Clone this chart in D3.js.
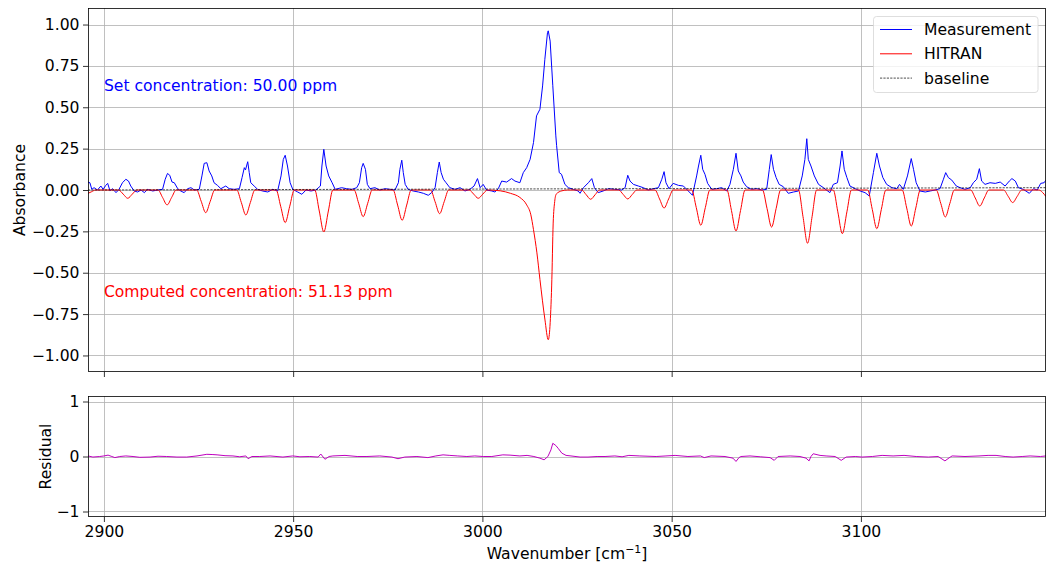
<!DOCTYPE html>
<html>
<head>
<meta charset="utf-8">
<script src="https://cdn.jsdelivr.net/npm/d3@7"></script>
<style>
body { margin: 0; background: #fff; }
text { font-family: "DejaVu Sans", sans-serif; }
</style>
</head>
<body>
<div id="chart"></div>
<script>
// spectra: [wavenumber, absorbance]
var measurement = [
[2895.8,0.048],[2896.3,0.044],[2896.8,0.004],[2897.4,0.014],[2898.3,0],[2899.2,0.024],[2899.8,0.004],
[2900.5,0.028],[2901.0,0.04],[2901.6,-0.004],[2902.3,0.008],[2903.2,-0.016],[2904.0,0.004],[2904.9,0.044],
[2905.8,0.065],[2906.5,0.054],[2907.1,0.024],[2908.0,-0.006],[2908.9,-0.012],[2909.8,0],[2910.7,-0.016],
[2911.5,0.004],[2912.9,-0.006],[2914.2,0],[2915.5,0.004],[2916.2,0.065],[2916.8,0.10],[2917.4,0.089],
[2918.0,0.048],[2918.6,0.044],[2919.5,0.008],[2920.3,-0.006],[2921.2,-0.016],[2922.1,0.008],[2923.0,0.014],
[2923.9,0],[2925.2,0.004],[2925.9,0.085],[2926.5,0.161],[2927.2,0.165],[2927.8,0.115],[2928.5,0.085],
[2929.1,0.044],[2930.0,0.028],[2930.9,0.008],[2932.2,0.024],[2933.1,0.008],[2934.4,0.004],[2935.8,0.008],
[2936.5,0.075],[2937.1,0.135],[2937.4,0.121],[2938.0,0.171],[2938.4,0.105],[2938.8,0.044],[2939.7,0.024],
[2940.6,0.004],[2941.9,-0.006],[2943.3,-0.012],[2944.6,0.004],[2945.9,-0.006],[2946.8,0.085],[2947.4,0.185],
[2947.9,0.21],[2948.5,0.145],[2949.2,0.044],[2949.9,0.004],[2951.2,-0.012],[2952.3,-0.026],[2953.4,0],
[2954.7,-0.006],[2956.0,0],[2957.2,0.024],[2957.6,0.145],[2958.1,0.246],[2958.7,0.145],[2959.4,0.085],
[2960.3,0.044],[2961.1,0.004],[2962.8,0.014],[2964.1,0.008],[2965.5,0.004],[2966.8,0.014],[2967.5,0.044],
[2968.1,0.135],[2968.5,0.161],[2969.1,0.125],[2969.6,0.034],[2970.3,0.008],[2971.6,0.014],[2972.9,0],
[2974.3,0.008],[2975.6,0.004],[2976.9,0],[2977.8,0.044],[2978.2,0.125],[2978.7,0.18],[2979.1,0.105],
[2979.6,0.034],[2980.4,0.004],[2981.7,-0.006],[2983.1,-0.012],[2984.4,-0.02],[2985.7,-0.032],[2986.6,-0.016],
[2987.5,0.014],[2988.1,0.105],[2988.6,0.169],[2989.1,0.105],[2989.7,0.065],[2990.4,0.044],[2991.4,0.014],
[2992.8,0.004],[2994.1,0.014],[2995.4,-0.006],[2996.7,0.004],[2997.8,0.024],[2998.7,0.069],[2999.4,0.014],
[3000.2,0.034],[3001.1,0],[3002.5,-0.006],[3003.3,-0.012],[3004.2,0.008],[3005.1,0.054],[3006.4,0.048],
[3007.7,0.069],[3008.6,0.054],[3009.9,0.044],[3010.8,0.105],[3011.7,0.135],[3012.6,0.185],[3013.5,0.287],
[3014.3,0.448],[3015.2,0.488],[3015.9,0.629],[3016.5,0.79],[3017.2,0.952],[3017.4,0.962],[3017.9,0.90],
[3018.6,0.63],[3019.4,0.327],[3019.6,0.27],[3020.3,0.105],[3020.9,0.095],[3021.8,0.034],[3022.7,0.014],
[3024.0,0.004],[3025.3,-0.006],[3025.8,-0.02],[3026.7,0.014],[3028.0,0.044],[3028.9,0.069],[3029.6,0.014],
[3030.6,-0.016],[3031.9,-0.006],[3033.3,0.008],[3035.0,0.004],[3036.8,0],[3037.7,0.014],[3038.4,0.089],
[3039.0,0.054],[3039.9,0.034],[3041.2,0.024],[3042.5,0.014],[3043.8,0],[3045.2,0.008],[3046.5,0.014],
[3047.4,0.065],[3048.0,0.111],[3048.5,0.044],[3049.3,0.008],[3050.4,0.04],[3051.8,0.028],[3053.1,0.024],
[3054.4,-0.006],[3055.5,-0.032],[3056.6,0.085],[3057.1,0.145],[3057.7,0.21],[3058.2,0.125],[3058.8,0.095],
[3059.5,0.04],[3060.6,0.004],[3061.9,0.008],[3063.2,0.014],[3064.6,-0.006],[3065.4,0.034],[3066.3,0.125],
[3067.0,0.222],[3067.6,0.115],[3068.3,0.085],[3068.9,0.048],[3069.8,0.02],[3071.1,0.004],[3072.5,0.008],
[3073.8,0],[3075.1,0.004],[3075.8,0.125],[3076.3,0.214],[3076.9,0.125],[3077.6,0.075],[3078.4,0.034],
[3079.5,0.02],[3080.8,-0.02],[3082.2,-0.012],[3083.5,-0.006],[3084.5,0.085],[3085.2,0.185],[3085.7,0.31],
[3086.1,0.185],[3086.8,0.145],[3087.7,0.085],[3088.8,0.034],[3090.1,0.014],[3091.8,-0.016],[3092.7,0.034],
[3093.8,0.044],[3094.5,0.145],[3095.0,0.236],[3095.6,0.125],[3096.3,0.075],[3097.1,0.024],[3098.5,0.008],
[3099.8,-0.006],[3101.1,-0.016],[3102.2,-0.036],[3103.3,0.105],[3104.2,0.222],[3104.9,0.145],[3105.8,0.075],
[3106.8,0.034],[3108.2,0.014],[3109.5,0.008],[3110.2,0.034],[3111.2,0.004],[3112.3,0.085],[3113.3,0.19],
[3113.9,0.125],[3114.6,0.044],[3115.6,-0.006],[3117.0,-0.012],[3118.3,-0.006],[3119.6,0],[3120.9,0.008],
[3121.8,0.065],[3122.4,0.105],[3123.1,0.075],[3124.0,0.06],[3125.2,0.024],[3126.2,0.014],[3127.5,0.004],
[3128.9,0.014],[3129.7,0.044],[3130.6,0.065],[3131.3,0.129],[3131.9,0.054],[3132.8,0.034],[3134.1,0.044],
[3135.5,0.04],[3136.8,0.048],[3138.1,0.024],[3139.2,0.054],[3139.9,0.069],[3140.8,0.054],[3141.6,0.014],
[3142.9,0.004],[3144.5,-0.02],[3145.6,0.008],[3146.6,0],[3147.5,0.04],[3148.4,0.044],[3148.9,0.06]
];

// HITRAN model, plotted inverted
var hitran = [
[2895.8,-0.02],[2896.8,-0.01],[2897.8,0],
[2903.9,0],[2905.1,-0.025],[2906.3,-0.05],[2907.5,-0.025],[2908.7,0],
[2914.3,0],[2915.5,-0.045],[2916.7,-0.09],[2917.9,-0.045],[2919.1,0],
[2924.5,0],[2925.7,-0.068],[2926.9,-0.137],[2928.1,-0.068],[2929.3,0],
[2935.1,0],[2936.3,-0.075],[2937.5,-0.151],[2938.7,-0.075],[2939.9,0],
[2945.5,0],[2946.7,-0.098],[2947.9,-0.197],[2949.1,-0.098],[2950.3,0],
[2955.7,0],[2956.9,-0.127],[2958.1,-0.254],[2959.3,-0.127],[2960.5,0],
[2966.1,0],[2967.3,-0.08],[2968.5,-0.161],[2969.7,-0.08],[2970.9,0],
[2976.4,0],[2977.6,-0.091],[2978.8,-0.183],[2980.0,-0.091],[2981.2,0],
[2986.3,0],[2987.5,-0.071],[2988.7,-0.143],[2989.9,-0.071],[2991.1,0],
[2996.5,0],[2997.7,-0.025],[2998.9,-0.05],[3000.1,-0.025],[3001.3,0],
[3004.7,-0.005],[3007.4,-0.02],[3009.9,-0.045],[3011.7,-0.09],[3012.8,-0.15],[3013.5,-0.24],[3014.4,-0.38],
[3015.2,-0.54],[3016.5,-0.78],[3017.4,-0.905],[3018.3,-0.58],[3018.7,-0.2],[3019.1,-0.07],[3019.5,-0.025],
[3021.0,-0.005],[3022.5,0],
[3026.2,0],[3027.4,-0.028],[3028.6,-0.056],[3029.8,-0.028],[3031.0,0],
[3036.0,0],[3037.2,-0.027],[3038.4,-0.054],[3039.6,-0.027],[3040.8,0],
[3045.6,0],[3046.8,-0.054],[3048.0,-0.109],[3049.2,-0.054],[3050.4,0],
[3055.3,0],[3056.5,-0.106],[3057.7,-0.213],[3058.9,-0.106],[3060.1,0],
[3064.6,0],[3065.8,-0.124],[3067.0,-0.248],[3068.2,-0.124],[3069.4,0],
[3074.0,0],[3075.2,-0.112],[3076.4,-0.224],[3077.6,-0.112],[3078.8,0],
[3083.5,0],[3084.7,-0.161],[3085.9,-0.322],[3087.1,-0.161],[3088.3,0],
[3092.7,0],[3093.9,-0.132],[3095.1,-0.264],[3096.3,-0.132],[3097.5,0],
[3101.8,0],[3103.0,-0.117],[3104.2,-0.234],[3105.4,-0.117],[3106.6,0],
[3110.9,0],[3112.1,-0.109],[3113.3,-0.218],[3114.5,-0.109],[3115.7,0],
[3119.9,0],[3121.1,-0.081],[3122.3,-0.163],[3123.5,-0.081],[3124.7,0],
[3129.0,0],[3130.2,-0.048],[3131.4,-0.097],[3132.6,-0.048],[3133.8,0],
[3137.7,0],[3138.9,-0.038],[3140.1,-0.076],[3141.3,-0.038],[3142.5,0],
[3147.0,0],[3148.0,-0.015],[3148.9,-0.04]
];

var baseline = [[2895.8,0.0],[3148.9,0.014]];

var residual = [
[2895.8,0.01],[2897.1,-0.01],[2898.9,0.0],[2900.0,0.01],[2901.1,0.025],[2902.1,0.0],[2902.9,-0.02],
[2904.2,0.0],[2905.8,0.01],[2907.7,0.0],[2909.5,-0.015],[2912.2,-0.01],[2914.3,0.005],[2916.6,0.0],
[2919.3,-0.01],[2921.9,-0.01],[2924.6,0.01],[2927.2,0.04],[2928.8,0.035],[2929.9,0.03],[2932.0,0.015],
[2934.1,0.01],[2935.9,-0.005],[2937.5,0.01],[2938.1,-0.04],[2939.1,0.0],[2941.2,0.0],[2943.9,0.01],
[2947.3,-0.01],[2949.9,0.01],[2951.8,-0.005],[2954.4,0.0],[2956.6,-0.01],[2957.3,0.045],[2958.4,-0.05],
[2959.5,0.0],[2960.5,0.01],[2963.7,0.02],[2966.9,0.0],[2969.5,0.0],[2972.9,0.01],[2976.1,-0.01],
[2977.7,-0.04],[2979.5,-0.01],[2982.7,0.0],[2985.6,-0.02],[2987.7,0.01],[2989.6,0.03],[2991.4,0.02],
[2993.5,0.01],[2995.9,0.0],[2998.0,0.01],[3000.2,0.0],[3002.5,0.0],[3005.4,0.03],[3007.3,0.025],
[3009.9,0.01],[3011.8,0.02],[3013.6,0.0],[3015.2,-0.03],[3016.3,-0.06],[3017.3,0.0],[3018.1,0.12],
[3018.6,0.24],[3019.4,0.2],[3020.0,0.15],[3021.0,0.06],[3022.1,0.02],[3023.4,0.01],[3025.8,-0.01],
[3027.9,-0.01],[3030.3,0.0],[3032.4,0.0],[3035.0,0.01],[3036.9,-0.005],[3038.7,0.02],[3041.6,0.01],
[3045.9,0.0],[3048.5,0.01],[3050.9,0.02],[3054.3,0.0],[3057.6,0.01],[3058.6,-0.02],[3060.4,0.01],
[3064.1,0.0],[3066.2,-0.03],[3067.0,-0.09],[3067.8,-0.02],[3068.3,0.0],[3070.7,0.01],[3073.4,-0.005],
[3076.0,-0.02],[3077.1,-0.07],[3078.1,0.0],[3081.3,0.01],[3083.9,0.0],[3085.5,-0.03],[3086.3,-0.08],
[3086.8,0.0],[3087.4,0.05],[3089.2,0.02],[3090.8,0.01],[3093.2,0.0],[3094.8,-0.07],[3096.1,-0.01],
[3098.5,0.0],[3100.3,-0.01],[3103.0,0.0],[3105.6,0.02],[3108.5,0.01],[3111.4,0.02],[3114.6,0.0],
[3117.8,-0.01],[3120.4,0.0],[3122.2,-0.08],[3123.6,-0.01],[3124.1,0.01],[3127.5,0.0],[3131.2,0.01],
[3133.6,0.02],[3135.7,0.02],[3138.1,0.0],[3140.2,-0.01],[3142.6,0.0],[3144.7,0.01],[3147.4,0.0],[3148.9,0.01]
];

var xTicks = [2900, 2950, 3000, 3050, 3100];
var yTicksMain = [-1.0, -0.75, -0.5, -0.25, 0, 0.25, 0.5, 0.75, 1.0];
var yTicksRes = [-1, 0, 1];
var legendNames = ["Measurement", "HITRAN", "baseline"];
var setText = "Set concentration: 50.00 ppm";
var compText = "Computed concentration: 51.13 ppm";

var W = 1051, H = 564;
var L = 88, R = 1046;
var mainTop = 8, mainBot = 372;
var resTop = 396, resBot = 517;
var fs = 15.6;

var svg = d3.select("#chart").append("svg")
	.attr("width", W).attr("height", H);

var x = d3.scaleLinear().domain([2895.8, 3148.9]).range([L, R]);
var yMain = d3.scaleLinear().domain([-1.1, 1.1]).range([mainBot, mainTop]);
var yRes = d3.scaleLinear().domain([-1.1, 1.1]).range([resBot, resTop]);

function minus(s) { return String(s).replace("-", "\u2212"); }

function panel(y, top, bot, yTicks, yFmt, id) {
	var g = svg.append("g");
	// grid
	g.selectAll(".gx").data(xTicks).enter().append("line")
		.attr("x1", function(d) { return Math.round(x(d)) + 0.5; })
		.attr("x2", function(d) { return Math.round(x(d)) + 0.5; })
		.attr("y1", top).attr("y2", bot)
		.attr("stroke", "#b0b0b0").attr("stroke-width", 0.8);
	g.selectAll(".gy").data(yTicks).enter().append("line")
		.attr("x1", L).attr("x2", R)
		.attr("y1", function(d) { return Math.round(y(d)) + 0.5; })
		.attr("y2", function(d) { return Math.round(y(d)) + 0.5; })
		.attr("stroke", "#b0b0b0").attr("stroke-width", 0.8);

	svg.append("clipPath").attr("id", id)
		.append("rect").attr("x", L).attr("y", top).attr("width", R - L).attr("height", bot - top);

	var ax = d3.axisLeft(y).tickValues(yTicks).tickSize(5).tickPadding(3.5)
		.tickFormat(function(d) { return minus(yFmt(d)); });
	var ga = svg.append("g").attr("transform", "translate(" + L + ",0)").call(ax);
	ga.select(".domain").remove();
	ga.selectAll("text").attr("font-size", fs).attr("font-family", "DejaVu Sans").attr("fill", "#000");
	ga.selectAll("line").attr("stroke", "#000").attr("stroke-width", 0.8);

	var bx = d3.axisBottom(x).tickValues(xTicks).tickSize(5).tickPadding(3.5).tickFormat(d3.format("d"));
	var gb = svg.append("g").attr("transform", "translate(0," + bot + ")").call(bx);
	gb.select(".domain").remove();
	gb.selectAll("text").attr("font-size", fs).attr("font-family", "DejaVu Sans").attr("fill", "#000");
	gb.selectAll("line").attr("stroke", "#000").attr("stroke-width", 0.8);
	if (id == "clipMain") gb.selectAll("text").remove();
	return g;
}

panel(yMain, mainTop, mainBot, yTicksMain, d3.format(".2f"), "clipMain");
panel(yRes, resTop, resBot, yTicksRes, d3.format("d"), "clipRes");

var lineMain = d3.line().x(function(d) { return x(d[0]); }).y(function(d) { return yMain(d[1]); });
var lineSmooth = d3.line().curve(d3.curveMonotoneX).x(function(d) { return x(d[0]); }).y(function(d) { return yMain(d[1]); });
var lineRes = d3.line().x(function(d) { return x(d[0]); }).y(function(d) { return yRes(d[1]); });

var gm = svg.append("g").attr("clip-path", "url(#clipMain)");
gm.append("path").datum(measurement).attr("d", lineMain)
	.attr("fill", "none").attr("stroke", "#0000ff").attr("stroke-width", 1);
gm.append("path").datum(hitran).attr("d", lineSmooth)
	.attr("fill", "none").attr("stroke", "#ff0000").attr("stroke-width", 1);
gm.append("path").datum(baseline).attr("d", lineMain)
	.attr("fill", "none").attr("stroke", "#000").attr("stroke-width", 0.7)
	.attr("stroke-dasharray", "2.2,1.2");

svg.append("g").attr("clip-path", "url(#clipRes)")
	.append("path").datum(residual).attr("d", lineRes)
	.attr("fill", "none").attr("stroke", "#bf00bf").attr("stroke-width", 1);

// frames
[[mainTop, mainBot], [resTop, resBot]].forEach(function(p) {
	svg.append("rect").attr("x", L + 0.5).attr("y", p[0] + 0.5)
		.attr("width", R - L - 1).attr("height", p[1] - p[0] - 1)
		.attr("fill", "none").attr("stroke", "#000").attr("stroke-width", 0.8);
});

// annotations
svg.append("text").attr("x", x(2900)).attr("y", yMain(0.633)).attr("dy", "0.35em")
	.attr("font-size", fs).attr("fill", "#0000ff").text(setText);
svg.append("text").attr("x", x(2900)).attr("y", yMain(-0.613)).attr("dy", "0.35em")
	.attr("font-size", fs).attr("fill", "#ff0000").text(compText);

// axis labels
svg.append("text").attr("transform", "translate(20," + ((mainTop + mainBot) / 2) + ") rotate(-90)")
	.attr("text-anchor", "middle").attr("dy", "0.35em").attr("font-size", fs).text("Absorbance");
svg.append("text").attr("transform", "translate(46," + ((resTop + resBot) / 2) + ") rotate(-90)")
	.attr("text-anchor", "middle").attr("dy", "0.35em").attr("font-size", fs).text("Residual");
var xl = svg.append("text").attr("x", (L + R) / 2).attr("y", 559)
	.attr("text-anchor", "middle").attr("font-size", fs);
xl.append("tspan").text("Wavenumber [cm");
xl.append("tspan").attr("dy", -6).attr("font-size", fs * 0.7).text("\u22121");
xl.append("tspan").attr("dy", 6).text("]");

// legend
var lg = svg.append("g");
lg.append("rect").attr("x", 873.5).attr("y", 16.5).attr("width", 164.5).attr("height", 76)
	.attr("rx", 3).attr("fill", "#fff").attr("fill-opacity", 0.8)
	.attr("stroke", "#d6d6d6").attr("stroke-width", 0.8);
var legColors = ["#0000ff", "#ff0000", "#000"];
legendNames.forEach(function(n, i) {
	var yy = 29.5 + i * 24.3;
	lg.append("line").attr("x1", 880).attr("x2", 912).attr("y1", yy).attr("y2", yy)
		.attr("stroke", legColors[i]).attr("stroke-width", i == 2 ? 0.7 : 1)
		.attr("stroke-dasharray", i == 2 ? "2.2,1.2" : null);
	lg.append("text").attr("x", 924).attr("y", yy).attr("dy", "0.35em")
		.attr("font-size", fs).text(n);
});
</script>
</body>
</html>
